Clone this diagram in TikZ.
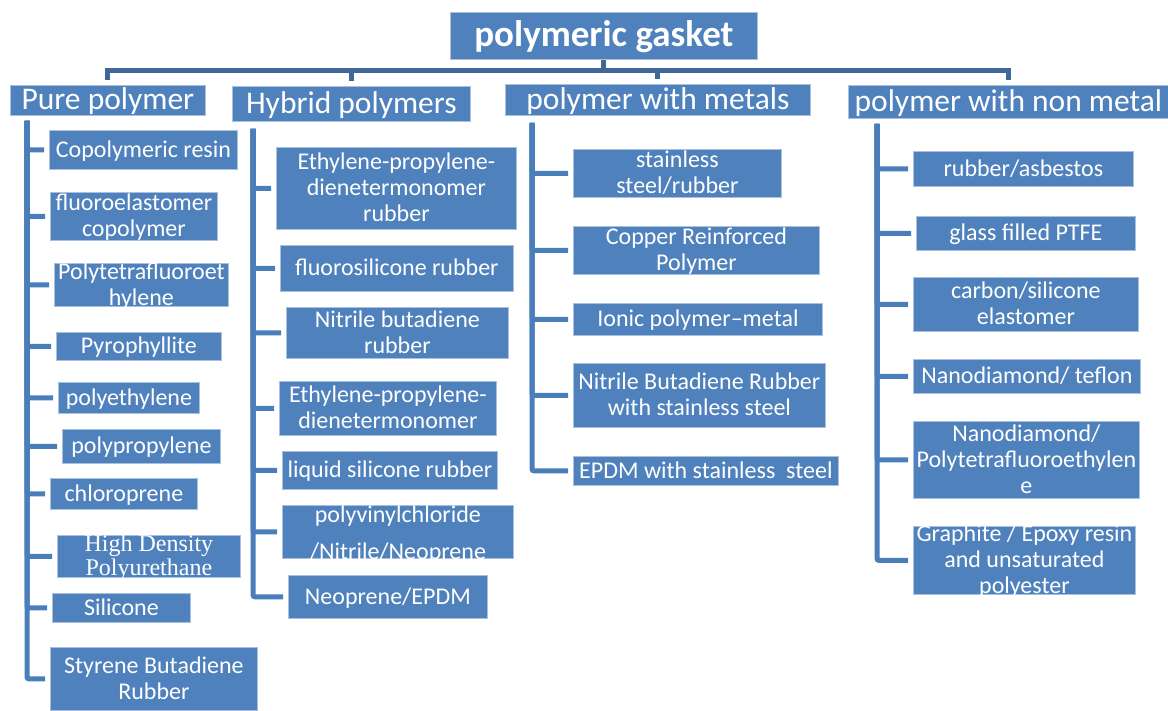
\documentclass[tikz,border=0pt]{standalone}
\usepackage{fontspec}
\setmainfont{Carlito}
\newfontfamily\timesfont{Liberation Serif}
\usepackage{tikz}

\definecolor{boxblue}{HTML}{4F81BD}
\definecolor{edgeblue}{HTML}{A9C1DF}
\definecolor{busblue}{HTML}{3F679A}
\definecolor{trunkblue}{HTML}{4A7EBB}

% fixed size text cell: width, height, lines (text may spill out, centred)
\newcommand{\cellbox}[3]{\vbox to #2pt{\vss\kern4pt\hbox to #1pt{\hss\begin{tabular}{@{}c@{}}#3\end{tabular}\hss}\vss}}

\begin{document}
\begin{tikzpicture}[
    x=1pt, y=-1pt,
    gbox/.style={draw=edgeblue, line width=0.8pt, fill=boxblue, text=white, inner sep=0pt, anchor=north west},
    rootbox/.style={gbox, font=\fontsize{37pt}{42pt}\selectfont\bfseries},
    catbox/.style={gbox, font=\fontsize{31.5pt}{36pt}\selectfont},
    itembox/.style={gbox, font=\fontsize{24pt}{26pt}\selectfont},
    bus/.style={draw=busblue, line width=5pt, shorten >=5pt},
    branch/.style={draw=trunkblue, line width=5pt, shorten >=5pt, rounded corners=2pt}
]
\useasboundingbox (0,0) rectangle (1168,711);

\node[rootbox] (gasket) at (450,12) {\cellbox{307}{47}{polymeric gasket}};

\node[catbox] (pure) at (10,85) {\cellbox{195}{30}{Pure polymer}};
\node[catbox] (hybrid) at (232,86) {\cellbox{238}{35}{Hybrid polymers}};
\node[catbox] (metal) at (505,84) {\cellbox{305}{31}{polymer with metals}};
\node[catbox] (nonmetal) at (848,85) {\cellbox{320}{33}{polymer with non metal}};

% pure polymer
\node[itembox] (pure1) at (49,130) {\cellbox{188}{39}{Copolymeric resin}};
\node[itembox] (pure2) at (50,192) {\cellbox{167}{48}{fluoroelastomer\\copolymer}};
\node[itembox] (pure3) at (54,263) {\cellbox{174}{43}{Polytetrafluoroet\\hylene}};
\node[itembox] (pure4) at (56,332) {\cellbox{165}{28}{Pyrophyllite}};
\node[itembox] (pure5) at (58,382) {\cellbox{141}{31}{polyethylene}};
\node[itembox] (pure6) at (62,429) {\cellbox{158}{34}{polypropylene}};
\node[itembox] (pure7) at (50,478) {\cellbox{147}{31}{chloroprene}};
\node[itembox, font=\fontsize{24pt}{23pt}\timesfont] (pure8) at (57,535) {\cellbox{183}{42}{High Density\\Polyurethane}};
\node[itembox] (pure9) at (52,593) {\cellbox{138}{29}{Silicone}};
\node[itembox] (pure10) at (50,647) {\cellbox{207}{63}{Styrene Butadiene\\Rubber}};

% hybrid polymers
\node[itembox] (hyb1) at (276,147) {\cellbox{240}{82}{Ethylene-propylene-\\dienetermonomer\\rubber}};
\node[itembox] (hyb2) at (280,245) {\cellbox{233}{46}{fluorosilicone rubber}};
\node[itembox] (hyb3) at (286,307) {\cellbox{222}{51}{Nitrile butadiene\\rubber}};
\node[itembox] (hyb4) at (279,381) {\cellbox{217}{54}{Ethylene-propylene-\\dienetermonomer}};
\node[itembox] (hyb5) at (282,451) {\cellbox{215}{38}{liquid silicone rubber}};
\node[itembox, font=\fontsize{24pt}{37pt}\selectfont] (hyb6) at (282,505) {\cellbox{231}{53}{polyvinylchloride\\/Nitrile/Neoprene}};
\node[itembox] (hyb7) at (288,575) {\cellbox{199}{43}{Neoprene/EPDM}};

% polymer with metals
\node[itembox] (met1) at (573,149) {\cellbox{208}{48}{stainless\\steel/rubber}};
\node[itembox] (met2) at (573,226) {\cellbox{246}{48}{Copper Reinforced\\Polymer}};
\node[itembox] (met3) at (573,303) {\cellbox{249}{32}{Ionic polymer--metal}};
\node[itembox] (met4) at (573,363) {\cellbox{252}{64}{Nitrile Butadiene Rubber\\with stainless steel}};
\node[itembox] (met5) at (573,456) {\cellbox{265}{29}{EPDM with stainless\ \ steel}};

% polymer with non metal
\node[itembox] (non1) at (913,151) {\cellbox{220}{35}{rubber/asbestos}};
\node[itembox] (non2) at (916,216) {\cellbox{219}{34}{glass filled PTFE}};
\node[itembox] (non3) at (913,277) {\cellbox{225}{54}{carbon/silicone\\elastomer}};
\node[itembox] (non4) at (913,359) {\cellbox{227}{34}{Nanodiamond/ teflon}};
\node[itembox] (non5) at (913,421) {\cellbox{226}{77}{Nanodiamond/\\Polytetrafluoroethylen\\e}};
\node[itembox] (non6) at (913,526) {\cellbox{222}{68}{Graphite / Epoxy resin\\and unsaturated\\polyester}};

% top level links
\foreach \c in {pure,hybrid,metal,nonmetal}
  \draw[bus] (gasket.south) -- ++(0,11) -| (\c.north);

% trunks and branches
\coordinate (puretop) at ([xshift=17pt,yshift=-5pt]pure.south west);
\coordinate (hybtop) at ([xshift=21pt,yshift=-7pt]hybrid.south west);
\coordinate (mettop) at ([xshift=27pt,yshift=-7pt]metal.south west);
\coordinate (nontop) at ([xshift=29pt,yshift=-5pt]nonmetal.south west);

\foreach \i in {1,...,10}
  \draw[branch] (puretop) |- (pure\i.west);
\foreach \i in {1,...,7}
  \draw[branch] (hybtop) |- (hyb\i.west);
\foreach \i in {1,...,5}
  \draw[branch] (mettop) |- (met\i.west);
\foreach \i in {1,...,6}
  \draw[branch] (nontop) |- (non\i.west);
\end{tikzpicture}
\end{document}
